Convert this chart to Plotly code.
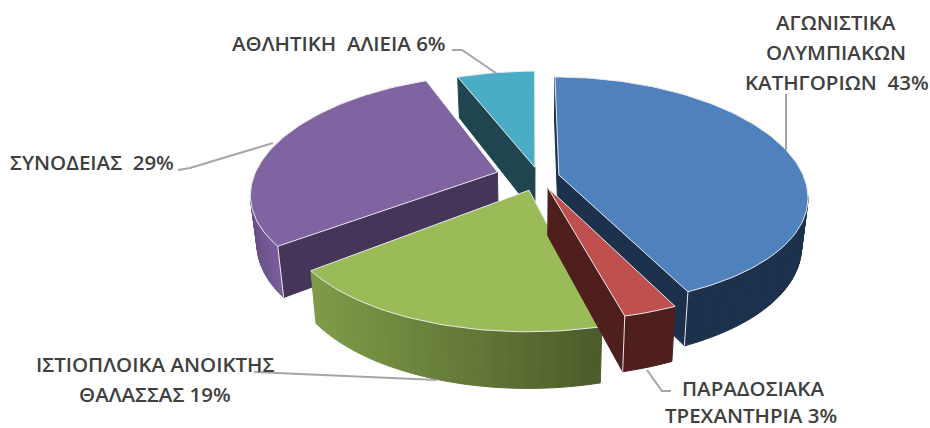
import math
import plotly.graph_objects as go

# ---- data ----
categories = ["ΑΓΩΝΙΣΤΙΚΑ ΟΛΥΜΠΙΑΚΩΝ ΚΑΤΗΓΟΡΙΩΝ", "ΠΑΡΑΔΟΣΙΑΚΑ ΤΡΕΧΑΝΤΗΡΙΑ",
              "ΙΣΤΙΟΠΛΟΙΚΑ ΑΝΟΙΚΤΗΣ ΘΑΛΑΣΣΑΣ", "ΣΥΝΟΔΕΙΑΣ", "ΑΘΛΗΤΙΚΗ ΑΛΙΕΙΑ"]
values = [43, 3, 18.6, 29.4, 6]

# ---- style ----
top_colors = ["#4f81bd", "#c0504d", "#9bbb59", "#8064a2", "#4bacc6"]
arc_left = ["#1c324c", "#4e1f1d", "#7f9b48", "#6a5089", "#1f4650"]
arc_right = ["#1c324c", "#4e1f1d", "#4c5b2a", "#7a5f9b", "#1f4650"]
cut_colors = ["#1c324c", "#4e1f1d", "#4e5e2a", "#453558", "#1f4650"]
explode_x = [0.105, 0.06, -0.016, -0.145, 0.008]
explode_y = [-0.031, 0.084, 0.102, -0.057, -0.10]
radius_x = [0.99, 0.97, 0.96, 0.985, 1]
radius_y = [1, 0.98, 1.03, 1, 1]
paint_order = [4, 3, 0, 2, 1]

CX, CY, A, B, KX, KY, DEPTH, KD, SHRINK = 533, 178.5, 248, 113.2, 0.18, 0.145, 47, 0.15, 0.977
EDGE = "#e8eaed"
GREY = "#a6a6a6"
TEXT = "#404040"


def project(x, y):
    return CX + A * x / (1 - KX * y), CY + B * y / (1 - KY * y)


def drop(x, y):
    sx, sy = project(x, y)
    return CX + (sx - CX) * SHRINK, sy + DEPTH / (1 - KD * y)


def mix(c1, c2, t):
    a = [int(c1[i:i + 2], 16) for i in (1, 3, 5)]
    b = [int(c2[i:i + 2], 16) for i in (1, 3, 5)]
    return "#%02x%02x%02x" % tuple(round(p + (q - p) * t) for p, q in zip(a, b))


fig = go.Figure()


def poly(xs, ys, fill, line=None, width=1):
    fig.add_trace(go.Scatter(x=xs + xs[:1], y=ys + ys[:1], mode="lines", fill="toself",
                             fillcolor=fill, line=dict(color=line or fill, width=width),
                             hoverinfo="skip", showlegend=False))


total = sum(values)
bounds = [0]
for v in values:
    bounds.append(bounds[-1] + v / total * 360)

for i in paint_order:
    t0, t1 = bounds[i], bounds[i + 1]
    n = max(6, int((t1 - t0) / 1.5))
    ex, ey = explode_x[i], explode_y[i]
    ring = [(ex + radius_x[i] * math.sin(math.radians(t0 + (t1 - t0) * j / n)),
             ey - radius_y[i] * math.cos(math.radians(t0 + (t1 - t0) * j / n))) for j in range(n + 1)]
    apex = (ex, ey)
    # cut faces
    for a, b in ((apex, ring[0]), (ring[-1], apex)):
        pa, pb = project(*a), project(*b)
        if pb[0] < pa[0] - 0.01:
            da, db = drop(*a), drop(*b)
            poly([pa[0], pb[0], db[0], da[0]], [pa[1], pb[1], db[1], da[1]], cut_colors[i])
    # outer wall, strips
    tops = [project(*p) for p in ring]
    vis = []
    for j in range(n):
        a, b = ring[j], ring[j + 1]
        pa, pb = tops[j], tops[j + 1]
        if pb[0] < pa[0]:
            vis.append((pa, pb, drop(*a), drop(*b)))
    if vis:
        lo = min(v[1][0] for v in vis)
        hi = max(v[0][0] for v in vis)
        for pa, pb, da, db in vis:
            t = ((pa[0] + pb[0]) / 2 - lo) / max(hi - lo, 1)
            poly([pa[0], pb[0], db[0], da[0]], [pa[1], pb[1], db[1], da[1]],
                 mix(arc_left[i], arc_right[i], t))
    # top face
    pts = [project(*apex)] + tops
    poly([p[0] for p in pts], [p[1] for p in pts], top_colors[i], EDGE, 1)
    # light corner lines
    corners = {0: ring[-1], 1: ring[-1], 3: ring[0]}
    if i in corners:
        p = corners[i]
        pa, pb = project(*p), drop(*p)
        fig.add_trace(go.Scatter(x=[pa[0], pb[0]], y=[pa[1], pb[1]], mode="lines",
                                 line=dict(color=EDGE, width=1), hoverinfo="skip", showlegend=False))

# ---- leader lines ----
leaders = [
    ([786, 786], [94, 150]),
    ([647, 662, 671], [370, 391, 391]),
    ([254, 437], [372, 380]),
    ([178, 190, 273], [170, 168, 143]),
    ([452, 462, 496], [50, 50, 73]),
]
for lx, ly in leaders:
    fig.add_trace(go.Scatter(x=lx, y=ly, mode="lines", line=dict(color=GREY, width=2),
                             hoverinfo="skip", showlegend=False))

# ---- labels ----
labels = [
    ("ΑΓΩΝΙΣΤΙΚΑ", 836, 22), ("ΟΛΥΜΠΙΑΚΩΝ", 836, 52), ("ΚΑΤΗΓΟΡΙΩΝ\u00a0 43%", 837, 82),
    ("ΠΑΡΑΔΟΣΙΑΚΑ", 753, 388), ("ΤΡΕΧΑΝΤΗΡΙΑ 3%", 751, 415),
    ("ΙΣΤΙΟΠΛΟΙΚΑ ΑΝΟΙΚΤΗΣ", 155, 364), ("ΘΑΛΑΣΣΑΣ 19%", 155, 394),
    ("ΣΥΝΟΔΕΙΑΣ\u00a0 29%", 92, 162),
    ("ΑΘΛΗΤΙΚΗ\u00a0 ΑΛΙΕΙΑ 6%", 339, 43),
]
for txt, x, y in labels:
    fig.add_annotation(x=x, y=y, text=txt, showarrow=False, xanchor="center", yanchor="middle",
                       font=dict(family="Open Sans", size=20.5, color=TEXT, weight=600))

fig.update_layout(width=930, height=428, margin=dict(l=0, r=0, t=0, b=0),
                  paper_bgcolor="white", plot_bgcolor="white", showlegend=False,
                  xaxis=dict(range=[0, 930], visible=False, fixedrange=True),
                  yaxis=dict(range=[428, 0], visible=False, fixedrange=True))
fig.write_html("out.html", config={"displayModeBar": False},
               post_script="document.body.style.margin='0';")
